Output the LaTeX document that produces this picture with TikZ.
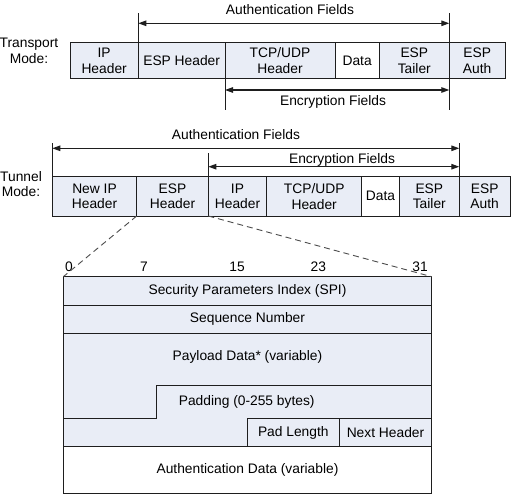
\documentclass[tikz,border=0pt]{standalone}
\usepackage{fontspec}
\setmainfont{Liberation Sans}
\usetikzlibrary{arrows.meta}
\definecolor{cellfill}{RGB}{233,237,246}
\definecolor{linec}{RGB}{30,30,30}
\begin{document}
\begin{tikzpicture}[x=1bp,y=-1bp,
  font=\fontsize{13.8bp}{15.8bp}\selectfont,
  cell/.style={draw=linec, fill=cellfill, line width=1bp, inner sep=0pt, outer sep=0pt, align=center},
  wcell/.style={cell, fill=white},
  trow/.style={minimum height=36.5bp},
  nrow/.style={minimum height=39.5bp},
  guide/.style={draw=linec, line width=1bp},
  dimarrow/.style={draw=linec, line width=1.2bp, {Triangle[length=8bp,width=5.5bp]}-{Triangle[length=8bp,width=5.5bp]}},
  dashline/.style={draw=linec!80, line width=0.9bp, dash pattern=on 6bp off 4bp},
  lbl/.style={inner sep=0pt, align=center}]
\useasboundingbox (0,0) rectangle (515,495);

% ---------- Transport mode ----------
\node[lbl] (tmode) at (29,50.5) {Transport\\Mode:};
\node[cell,trow,minimum width=68.3bp]  (tip)   at (104.15,60.75) {IP\\Header};
\node[cell,trow,minimum width=86.7bp]  (tesp)  at (181.65,60.75) {ESP Header};
\node[cell,trow,minimum width=110bp]   (ttcp)  at (280,60.75) {TCP/UDP\\Header};
\node[wcell,trow,minimum width=44.3bp] (tdata) at (357.15,60.75) {Data};
\node[cell,trow,minimum width=70bp]    (ttail) at (414.3,60.75) {ESP\\Tailer};
\node[cell,trow,minimum width=55.7bp]  (tauth) at (477.15,60.75) {ESP\\Auth};

\coordinate (ta1) at (138.3,13);
\coordinate (ta2) at (449.3,13);
\draw[guide] (tesp.north west) -- (tesp.north west |- ta1);
\draw[guide] (tauth.north west) -- (tauth.north west |- ta2);
\coordinate (tay) at (0,23.3);
\draw[dimarrow] (tesp.north west |- tay) -- (tauth.north west |- tay);
\node[lbl] (tauthlbl) at (290,10) {Authentication Fields};

\coordinate (te1) at (225,110);
\draw[guide] (ttcp.south west) -- (ttcp.south west |- te1);
\draw[guide] (tauth.south west) -- (tauth.south west |- te1);
\coordinate (tey) at (0,90);
\draw[dimarrow] (ttcp.south west |- tey) -- (tauth.south west |- tey);
\node[lbl] (tenclbl) at (333,101.5) {Encryption Fields};

% ---------- Tunnel mode ----------
\node[lbl] (nmode) at (21,184) {Tunnel\\Mode:};
\node[cell,nrow,minimum width=84.4bp]  (nip)   at (94.5,196.25) {New IP\\Header};
\node[cell,nrow,minimum width=71.6bp]  (nesp)  at (172.5,196.25) {ESP\\Header};
\node[cell,nrow,minimum width=58.4bp]  (nipin) at (237.5,196.25) {IP\\Header};
\node[cell,nrow,minimum width=95bp]    (ntcp)  at (314.2,196.25) {TCP/UDP\\Header};
\node[wcell,nrow,minimum width=37.6bp] (ndata) at (380.5,196.25) {Data};
\node[cell,nrow,minimum width=60bp]    (ntail) at (429.3,196.25) {ESP\\Tailer};
\node[cell,nrow,minimum width=50.7bp]  (nauth) at (484.65,196.25) {ESP\\Auth};

\coordinate (na1) at (0,143.3);
\draw[guide] (nip.north west) -- (nip.north west |- na1);
\draw[guide] (nauth.north west) -- (nauth.north west |- na1);
\coordinate (nay) at (0,148.3);
\draw[dimarrow] (nip.north west |- nay) -- (nauth.north west |- nay);
\node[lbl] (nauthlbl) at (236,135) {Authentication Fields};

\coordinate (ne1) at (0,153);
\draw[guide] (nipin.north west) -- (nipin.north west |- ne1);
\coordinate (ney) at (0,166.7);
\draw[dimarrow] (nipin.north west |- ney) -- (nauth.north west |- ney);
\node[lbl] (nenclbl) at (342,160) {Encryption Fields};

% ---------- ESP packet format ----------
\node[cell,minimum width=368.4bp,minimum height=28.3bp] (spi) at (247.5,290.85) {Security Parameters Index (SPI)};
\node[cell,minimum width=368.4bp,minimum height=28.3bp] (seq) at (247.5,319.15) {Sequence Number};
\node[cell,minimum width=368.4bp,minimum height=113.4bp] (payload) at (247.5,390) {};
\coordinate (stepA) at (156.3,418.3);
\coordinate (stepB) at (156.3,385);
\draw[guide] (payload.west |- stepA) -- (stepA) -- (stepB) -- (payload.east |- stepB);
\node[lbl] (paytxt) at (247.5,357.3) {Payload Data* (variable)};
\node[lbl] (padtxt) at (246.7,401.7) {Padding (0-255 bytes)};
\node[cell,minimum width=92bp,minimum height=28.4bp] (padlen) at (293.3,432.5) {Pad Length};
\node[cell,minimum width=92.4bp,minimum height=28.4bp] (nexth) at (385.5,432.5) {Next Header};
\node[wcell,minimum width=368.4bp,minimum height=46.6bp] (authd) at (247.5,470) {Authentication Data (variable)};

% bit positions
\node[lbl] (b0)  at (69,266.5) {0};
\node[lbl] (b7)  at (144,266.5) {7};
\node[lbl] (b15) at (237,266.5) {15};
\node[lbl] (b23) at (318.3,266.5) {23};
\node[lbl] (b31) at (420,266.5) {31};

% zoom lines
\draw[dashline] (nesp.south west) -- (spi.north west);
\draw[dashline] (nesp.south east) -- (spi.north east);
\end{tikzpicture}
\end{document}
